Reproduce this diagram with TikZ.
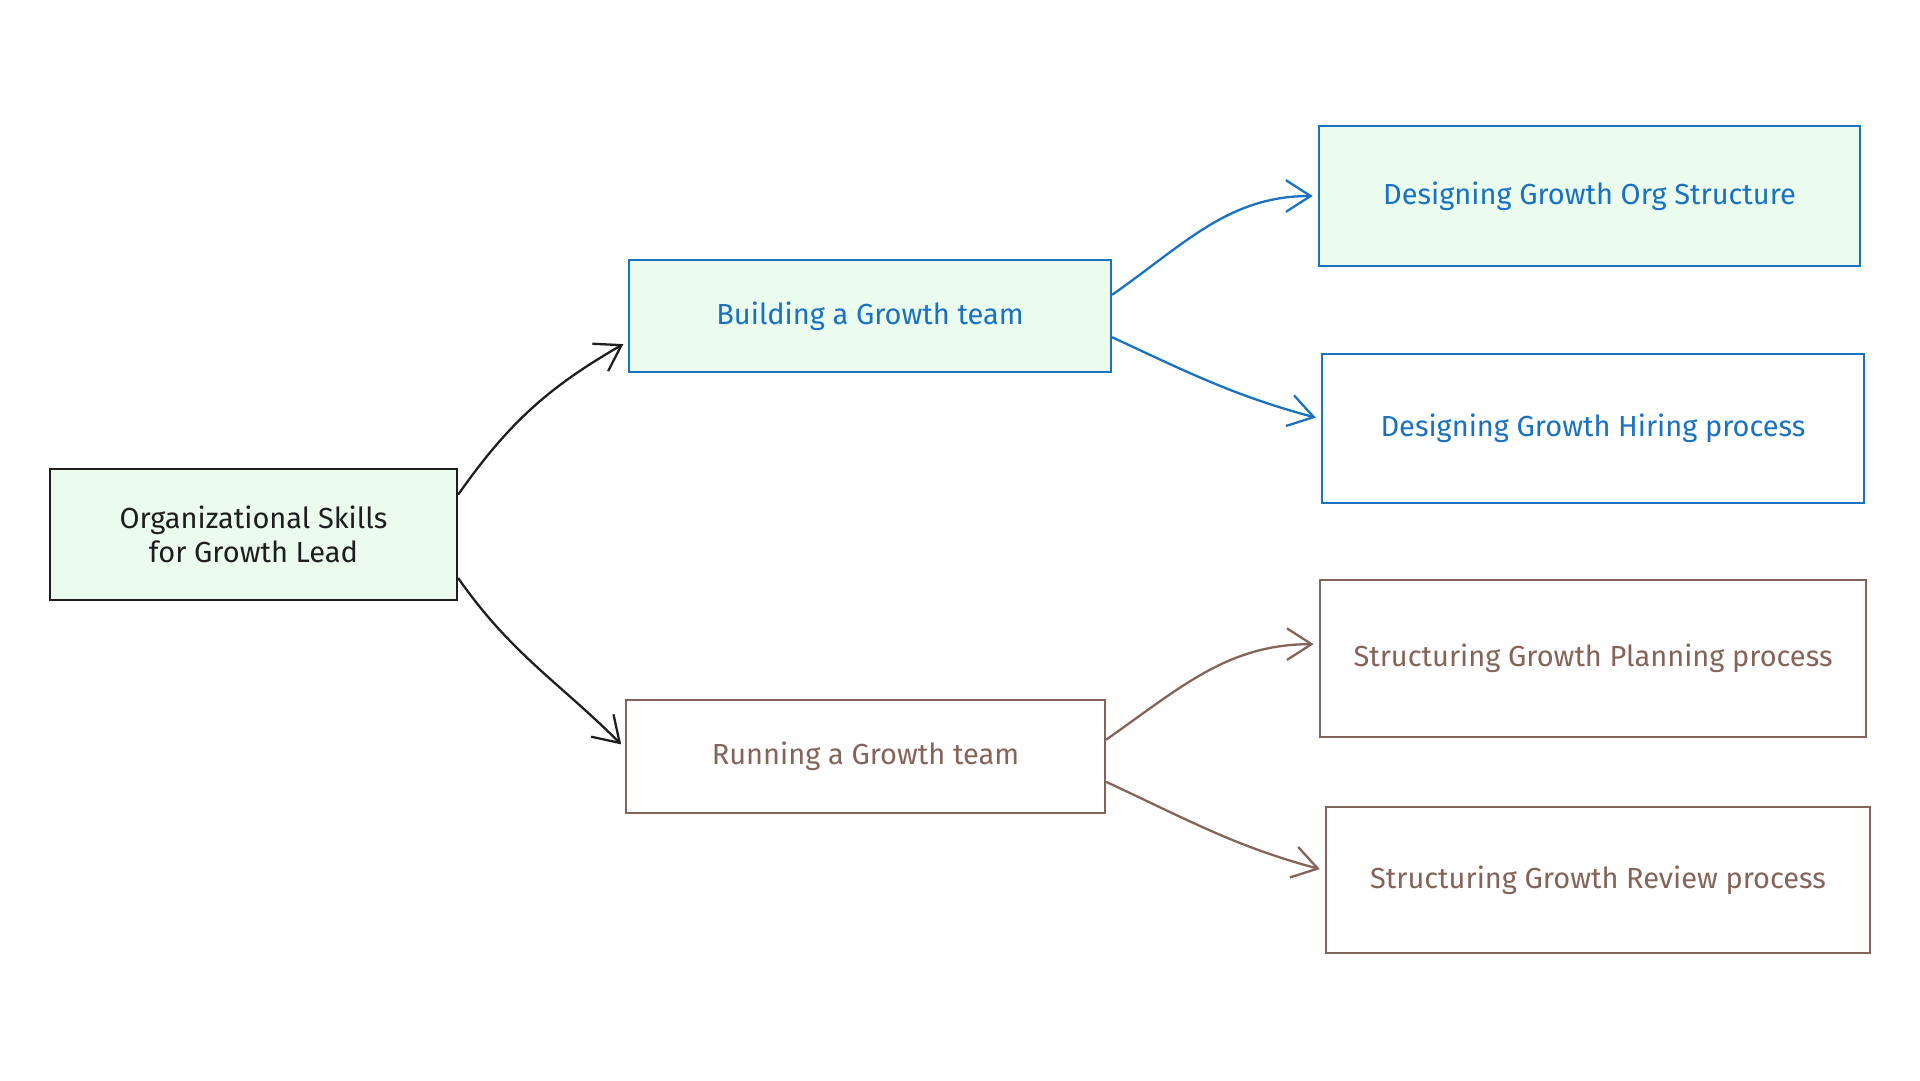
\documentclass[tikz,border=0pt]{standalone}
\usepackage{fontspec}
\setmainfont{Fira Sans}
\usetikzlibrary{arrows.meta}
\definecolor{skyblue}{HTML}{1971C2}
\definecolor{clay}{HTML}{846358}
\definecolor{ink}{HTML}{1E1E1E}
\definecolor{mint}{HTML}{EBFBEE}

\begin{document}
\begin{tikzpicture}[x=0.02cm,y=-0.02cm]
  \tikzstyle{box}=[draw,rectangle,line width=1.3pt,inner sep=0pt,align=center,
    font=\fontsize{16.5}{19}\selectfont]
  \tikzstyle{link}=[line width=1.3pt,shorten >=3pt,
    -{Straight Barb[length=14pt,width=18pt,line width=1.3pt]}]
  \useasboundingbox (0,0) rectangle (1920,1080);

  % root
  \node[box,ink,fill=mint,minimum width=8.14cm,minimum height=2.62cm] (root) at (253.5,534.5)
    {Organizational Skills\\for Growth Lead};

  % middle level
  \node[box,skyblue,fill=mint,minimum width=9.64cm,minimum height=2.24cm] (build) at (870,316)
    {Building a Growth team};
  \node[box,clay,minimum width=9.58cm,minimum height=2.26cm] (run) at (865.5,756.5)
    {Running a Growth team};

  % leaves
  \node[box,skyblue,fill=mint,minimum width=10.82cm,minimum height=2.8cm] (org) at (1589.5,196)
    {Designing Growth Org Structure};
  \node[box,skyblue,minimum width=10.84cm,minimum height=2.98cm] (hire) at (1593,428.5)
    {Designing Growth Hiring process};
  \node[box,clay,minimum width=10.92cm,minimum height=3.14cm] (plan) at (1593,658.5)
    {Structuring Growth Planning process};
  \node[box,clay,minimum width=10.88cm,minimum height=2.92cm] (rev) at (1598,880)
    {Structuring Growth Review process};

  \path[link,ink]
  (root.11) edge[out=55,in=210] (build.186)
  (root.-12) edge[out=-55,in=135] (run.178);
  \path[link,skyblue]
  (build.5) edge[out=35,in=180] (org.west)
  (build.-5) edge[out=-25,in=165] (hire.178);
  \path[link,clay]
  (run.4) edge[out=35,in=180] (plan.177)
  (run.-6) edge[out=-25,in=165] (rev.178);
\end{tikzpicture}
\end{document}
